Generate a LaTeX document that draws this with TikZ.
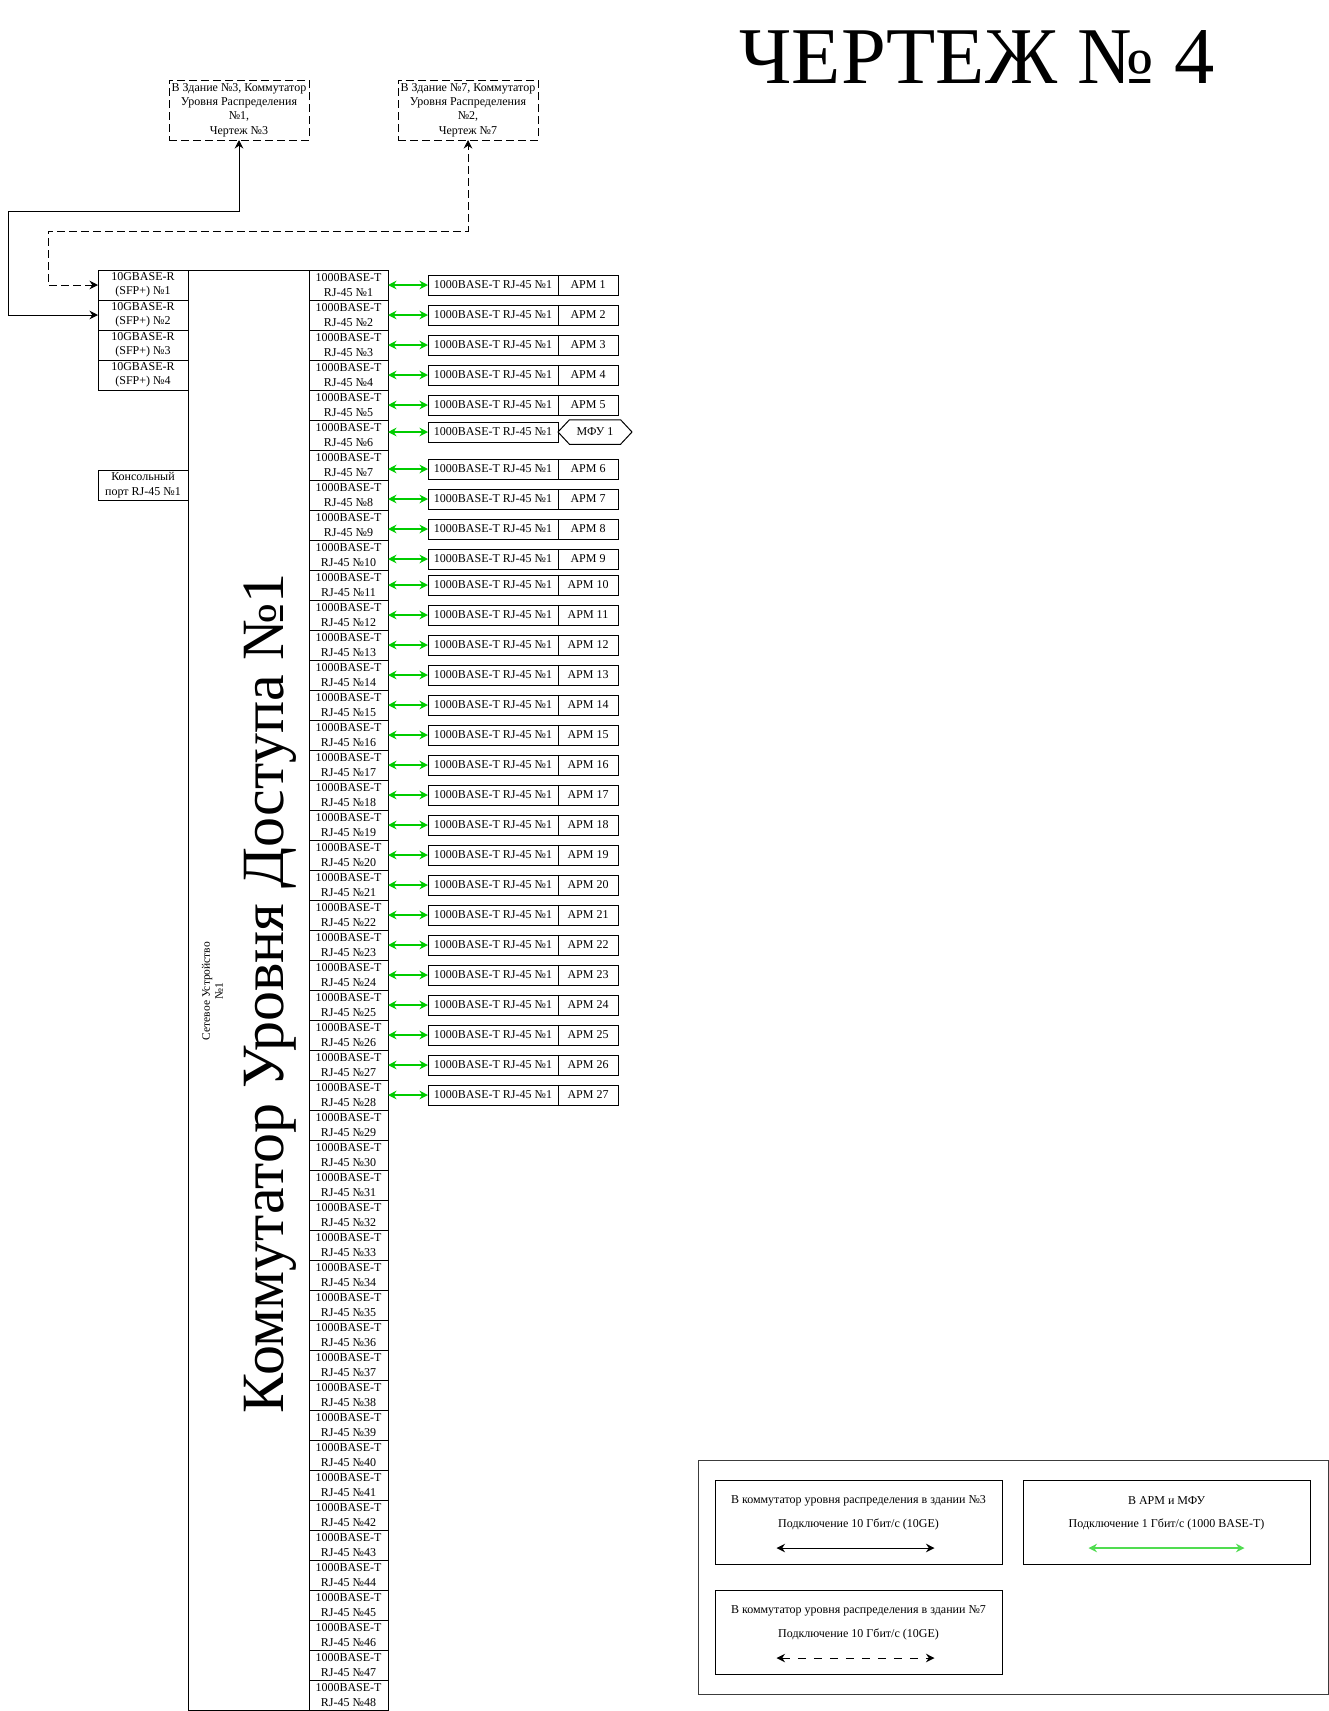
\documentclass[tikz,border=0pt]{standalone}
\usepackage{fontspec}
\setmainfont{Liberation Serif}
\usetikzlibrary{shapes.symbols, arrows.meta, positioning, calc}
\definecolor{mygreen}{RGB}{0,204,0}
\definecolor{mylegreen}{RGB}{80,220,80}
\definecolor{mygray}{RGB}{60,60,60}
\newcommand{\portfont}{\fontsize{12}{14.4}\selectfont}
\tikzset{
  sfpport/.style={rectangle, draw=black, minimum width=90pt, minimum height=30pt,
    inner sep=0pt, outer sep=0pt, align=center, font=\portfont, line width=1pt},
  gport/.style={sfpport, minimum width=79pt},
  devbox/.style={rectangle, draw=black, minimum width=130pt, minimum height=20pt,
    inner sep=0pt, outer sep=0pt, font=\portfont, line width=1pt},
  armbox/.style={devbox, minimum width=60pt},
  mfubox/.style={signal, signal to=west and east, signal pointer angle=94, draw=black,
    minimum width=74pt, minimum height=24.5pt, inner sep=0pt, outer sep=0pt,
    font=\portfont, line width=1pt},
  destbox/.style={rectangle, draw=black, dash pattern=on 8pt off 4pt, minimum width=140pt,
    minimum height=60pt, inner sep=0pt, outer sep=0pt, align=center, font=\portfont,
    line width=1pt},
  legframe/.style={rectangle, draw=mygray, line width=1pt, inner sep=0pt, outer sep=0pt},
  legbox/.style={legframe, draw=black, minimum width=287pt, minimum height=84pt},
  legtext/.style={font=\fontsize{12}{14}\selectfont, inner sep=0pt},
  garrow/.style={<->, >={Stealth[length=8.5pt,width=8.5pt]}, line width=1.3pt, color=mygreen},
  barrow/.style={<->, >={Stealth[length=8.5pt,width=8.5pt]}, line width=1pt, color=black},
  darrow/.style={barrow, dash pattern=on 8pt off 4pt}
}

\begin{document}
\begin{tikzpicture}[x=1pt, y=-1pt, node distance=0pt]
  \path[use as bounding box, fill=white] (0,0) rectangle (1329,1711);

  % Title
  \node[font=\fontsize{80.5}{82}\selectfont, anchor=base] (title) at (977,83) {ЧЕРТЕЖ № 4};

  % Distribution switches
  \node[destbox, anchor=north west] (dz3) at (169,80)
    {В Здание №3, Коммутатор\\Уровня Распределения\\№1,\\Чертеж №3};
  \node[destbox, anchor=north west] (dz7) at (398,80)
    {В Здание №7, Коммутатор\\Уровня Распределения\\№2,\\Чертеж №7};

  % Switch body
  \node[rectangle, draw=black, line width=1pt, minimum width=121pt, minimum height=1440pt,
    inner sep=0pt, outer sep=0pt, anchor=north west] (sw) at (188,270) {};
  \node[rotate=90, anchor=base, font=\fontsize{60}{62}\selectfont] (swname) at (283,993)
    {Коммутатор Уровня Доступа №1};
  \node[rotate=90, align=center, font=\fontsize{11.5}{13}\selectfont] (swtype) at (212.5,991)
    {Сетевое Устройство\\№1};

  % Uplink ports
  \node[sfpport, anchor=north east] (s1) at (sw.north west) {10GBASE-R\\(SFP+) №1};
  \foreach \i [remember=\i as \j (initially 1)] in {2,...,4}
    \node[sfpport, below=0pt of s\j] (s\i) {10GBASE-R\\(SFP+) №\i};
  \node[sfpport, anchor=north east] (con) at ($(sw.north west)+(0,200)$)
    {Консольный\\порт RJ-45 №1};

  % Access ports
  \node[gport, anchor=north west] (g1) at (sw.north east) {1000BASE-T\\RJ-45 №1};
  \foreach \i [remember=\i as \j (initially 1)] in {2,...,48}
    \node[gport, below=0pt of g\j] (g\i) {1000BASE-T\\RJ-45 №\i};

  % Uplinks
  \draw[barrow] (s2.west) -- ++(-90,0) -- ++(0,-104) -| (dz3.south);
  \draw[darrow] (s1.west) -- ++(-50,0) -- ++(0,-54) -| (dz7.south);

  % Workstations
  \foreach \k in {1,...,5,7,8,...,28} {
    \pgfmathtruncatemacro{\armno}{\k<6 ? \k : \k-1}
    \pgfmathsetmacro{\rowdy}{((\k>6) && (\k<11)) ? -4 : 0}
    \node[devbox, right=40pt of g\k, yshift=\rowdy pt] (d\k) {1000BASE-T RJ-45 №1};
    \node[armbox, right=0pt of d\k] (a\k) {АРМ \armno};
    \draw[garrow] (g\k.east |- d\k) -- (d\k.west);
  }

  % Printer
  \node[devbox, right=40pt of g6, yshift=3pt] (d6) {1000BASE-T RJ-45 №1};
  \node[mfubox, right=0pt of d6] (m6) {МФУ 1};
  \draw[garrow] (g6.east |- d6) -- (d6.west);

  % Legend
  \node[legframe, minimum width=630pt, minimum height=234pt, anchor=north west] (leg) at (698,1460) {};
  \node[legbox, anchor=north west] (lg3) at (715,1480) {};
  \node[legbox, right=21pt of lg3] (lgarm) {};
  \node[legbox, below=26pt of lg3] (lg7) {};

  \node[legtext] (lg3a) at ($(lg3.north)+(0,21)$) {В коммутатор уровня распределения в здании №3};
  \node[legtext] (lg3b) at ($(lg3.north)+(0,44)$) {Подключение 10 Гбит/с (10GE)};
  \coordinate (lg3l) at ($(lg3.north)+(-82,68)$);
  \coordinate (lg3r) at ($(lg3.north)+(76,68)$);
  \draw[barrow] (lg3l) -- (lg3r);

  \node[legtext] (lgarma) at ($(lgarm.north)+(0,21)$) {В АРМ и МФУ};
  \node[legtext] (lgarmb) at ($(lgarm.north)+(0,44)$) {Подключение 1 Гбит/с (1000 BASE-T)};
  \coordinate (lgarml) at ($(lgarm.north)+(-78,68)$);
  \coordinate (lgarmr) at ($(lgarm.north)+(78,68)$);
  \draw[garrow, color=mylegreen] (lgarml) -- (lgarmr);

  \node[legtext] (lg7a) at ($(lg7.north)+(0,21)$) {В коммутатор уровня распределения в здании №7};
  \node[legtext] (lg7b) at ($(lg7.north)+(0,44)$) {Подключение 10 Гбит/с (10GE)};
  \coordinate (lg7l) at ($(lg7.north)+(-82,68)$);
  \coordinate (lg7r) at ($(lg7.north)+(76,68)$);
  \draw[barrow, dash pattern=on 8pt off 8pt] (lg7l) -- (lg7r);
\end{tikzpicture}
\end{document}
